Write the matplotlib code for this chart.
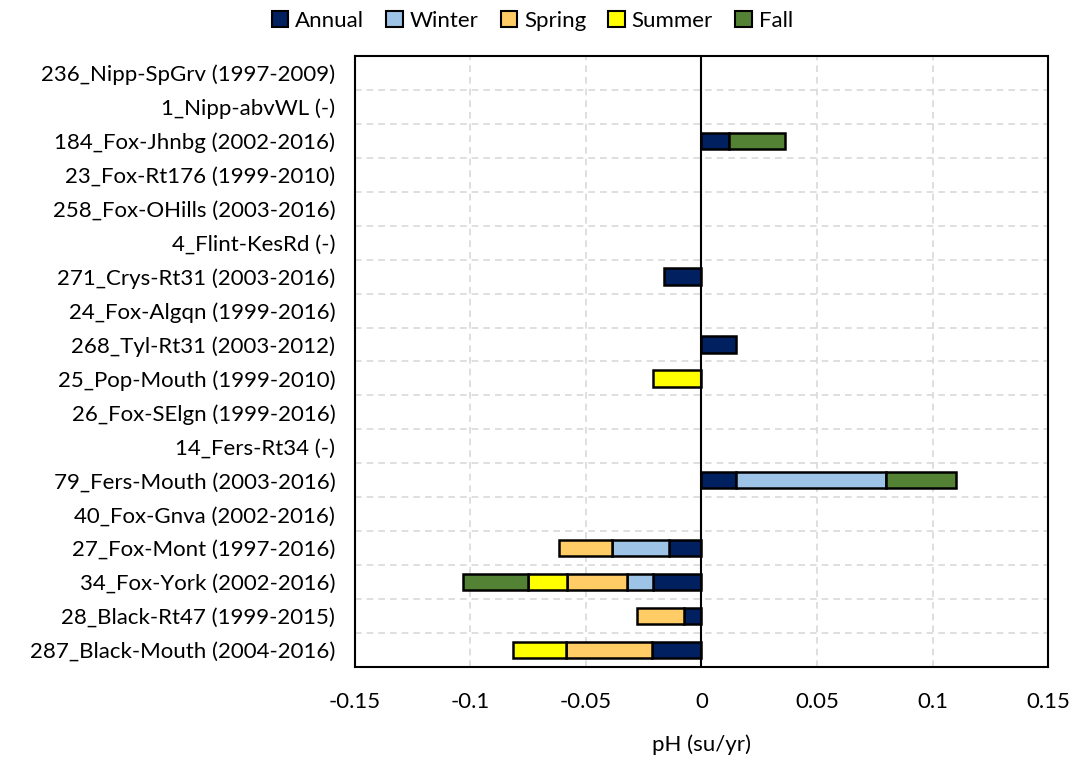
#!/usr/bin/env python3
"""
Seasonal pH trend chart - stacked horizontal bars per station
"""
import numpy as np
import matplotlib
matplotlib.use("Agg")
import matplotlib.pyplot as plt
from matplotlib.patches import Patch

# Stations, top to bottom
stations = [
    "236_Nipp-SpGrv (1997-2009)", "1_Nipp-abvWL (-)", "184_Fox-Jhnbg (2002-2016)",
    "23_Fox-Rt176 (1999-2010)", "258_Fox-OHills (2003-2016)", "4_Flint-KesRd (-)",
    "271_Crys-Rt31 (2003-2016)", "24_Fox-Algqn (1999-2016)", "268_Tyl-Rt31 (2003-2012)",
    "25_Pop-Mouth (1999-2010)", "26_Fox-SElgn (1999-2016)", "14_Fers-Rt34 (-)",
    "79_Fers-Mouth (2003-2016)", "40_Fox-Gnva (2002-2016)", "27_Fox-Mont (1997-2016)",
    "34_Fox-York (2002-2016)", "28_Black-Rt47 (1999-2015)", "287_Black-Mouth (2004-2016)",
]

# Trend values (su/yr)
annual = [0, 0, 0.012, 0, 0, 0, -0.016, 0, 0.015, 0, 0, 0, 0.015, 0, -0.014, -0.021, -0.0075, -0.0215]
winter = [0, 0, 0, 0, 0, 0, 0, 0, 0, 0, 0, 0, 0.065, 0, -0.0245, -0.011, 0, 0]
spring = [0, 0, 0, 0, 0, 0, 0, 0, 0, 0, 0, 0, 0, 0, -0.023, -0.026, -0.0205, -0.037]
summer = [0, 0, 0, 0, 0, 0, 0, 0, 0, -0.021, 0, 0, 0, 0, 0, -0.017, 0, -0.023]
fall = [0, 0, 0.024, 0, 0, 0, 0, 0, 0, 0, 0, 0, 0.030, 0, 0, -0.028, 0, 0]

series = [
    ("Annual", annual, "#002060"),
    ("Winter", winter, "#9DC3E6"),
    ("Spring", spring, "#FFCC66"),
    ("Summer", summer, "#FFFF00"),
    ("Fall", fall, "#548235"),
]

plt.rcParams["font.family"] = ["Lato", "DejaVu Sans"]
FS = 16

fig = plt.figure(figsize=(10.75, 7.57), dpi=100)
ax = fig.add_axes([0.330, 0.119, 0.645, 0.807])

y = np.arange(len(stations))
pos_left = np.zeros(len(stations))
neg_left = np.zeros(len(stations))

# stack positives to the right, negatives to the left
for name, vals, color in series:
    vals = np.array(vals, dtype=float)
    pos = np.where(vals > 0, vals, 0)
    neg = np.where(vals < 0, vals, 0)
    mp = pos > 0
    mn = neg < 0
    ax.barh(y[mp], pos[mp], left=pos_left[mp], height=0.48, color=color,
            edgecolor="black", linewidth=1.8, zorder=3)
    ax.barh(y[mn], neg[mn], left=neg_left[mn], height=0.48, color=color,
            edgecolor="black", linewidth=1.8, zorder=3)
    pos_left += pos
    neg_left += neg

ax.set_xlim(-0.15, 0.15)
ax.set_ylim(len(stations) - 0.5, -0.5)
ax.set_xticks([-0.15, -0.1, -0.05, 0, 0.05, 0.1, 0.15])
ax.set_xticklabels(["-0.15", "-0.1", "-0.05", "0", "0.05", "0.1", "0.15"])
ax.set_yticks(y)
ax.set_yticklabels(stations)
ax.tick_params(axis="both", length=0, labelsize=FS, colors="black")
ax.tick_params(axis="x", pad=18)
ax.tick_params(axis="y", pad=14)

# dashed grid: vertical at ticks, horizontal between categories
for xv in [-0.1, -0.05, 0.05, 0.1]:
    ax.axvline(xv, color="#D9D9D9", linestyle=(0, (4, 3)), linewidth=1.2, zorder=1)
for yv in np.arange(0.5, len(stations) - 0.5, 1):
    ax.axhline(yv, color="#D9D9D9", linestyle=(0, (4, 3)), linewidth=1.2, zorder=1)
ax.axvline(0, color="black", linewidth=1.5, zorder=4)

for s in ax.spines.values():
    s.set_linewidth(1.5)
    s.set_color("black")

ax.set_xlabel("pH (su/yr)", fontsize=FS, labelpad=16)

handles = [Patch(facecolor=c, edgecolor="black", linewidth=1.5, label=n) for n, _, c in series]
fig.legend(handles=handles, loc="upper center", bbox_to_anchor=(0.495, 1.012), ncol=5,
           frameon=False, fontsize=FS, handlelength=0.75, handleheight=0.75,
           handletextpad=0.3, columnspacing=1.0)

fig.savefig("out.png", dpi=100)
